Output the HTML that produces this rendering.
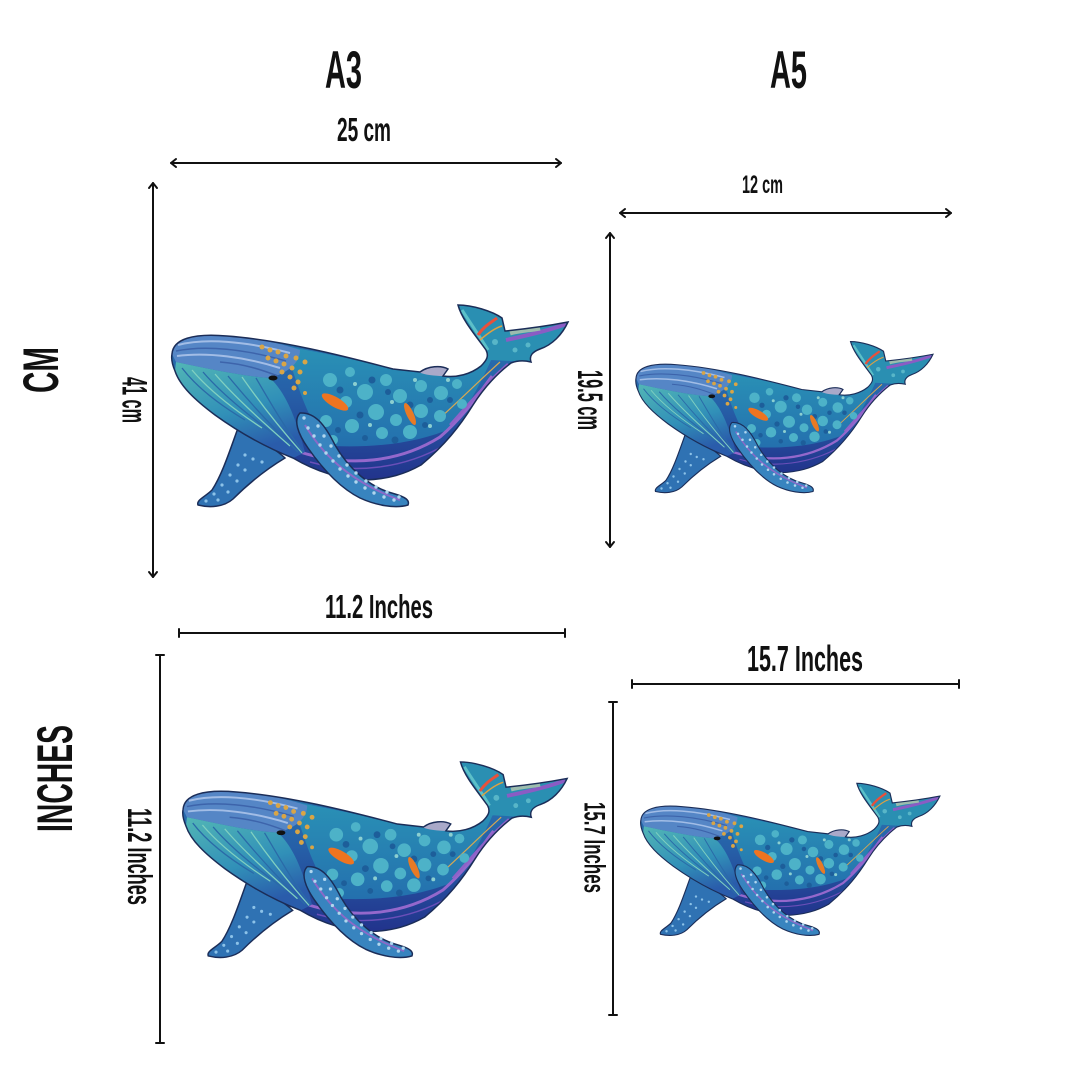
<!DOCTYPE html>
<html><head><meta charset="utf-8"><style>
html,body{margin:0;padding:0;background:#fff;}
svg{display:block;}
text{font-family:"Liberation Sans Narrow","Liberation Sans",sans-serif;font-weight:bold;fill:#111;}
</style></head><body>
<svg width="1080" height="1080" viewBox="0 0 1080 1080" xmlns="http://www.w3.org/2000/svg">
<defs>
<linearGradient id="gBody" x1="0" y1="0" x2="0" y2="1">
<stop offset="0" stop-color="#2a7cb2"/><stop offset="0.5" stop-color="#2660a8"/><stop offset="1" stop-color="#22338c"/>
</linearGradient>
<linearGradient id="gThroat" x1="0" y1="0" x2="0.4" y2="1">
<stop offset="0" stop-color="#52b6b6"/><stop offset="0.6" stop-color="#3190b8"/><stop offset="1" stop-color="#2a5cab"/>
</linearGradient>
<linearGradient id="gBack" x1="0" y1="0" x2="0" y2="1">
<stop offset="0" stop-color="#2a93b6"/><stop offset="1" stop-color="#2470ae"/>
</linearGradient>
<clipPath id="bodyClip">
<path d="M172,354 C173,339 193,333 227,336 C280,340 340,355 393,369 L420,372 C428,366 441,365 448,369 L443,376 C457,378 471,374 481,366 C487,360 489,356 486,350 C476,336 462,320 458,305 C472,305 492,311 502,318 L505,331 C525,329 547,326 568,322 C562,335 552,345 540,349 C532,352 529,356 531,362 C523,360 516,361 511,363 C498,373 485,386 473,405 C460,426 445,445 421,465 C405,474 389,479 365,480 C340,479 315,471 293,458 C265,447 240,433 215,415 C195,400 180,386 175,371 C172,364 171,359 172,354 Z"/>
</clipPath>
<g id="whale">
<!-- rear flipper -->
<path d="M238,428 C255,438 275,448 285,458 C265,470 248,484 233,499 C224,507 210,508 198,505 C196,500 205,497 212,490 C222,475 230,450 238,428 Z" fill="#2f72b3" stroke="#1b2d58" stroke-width="1.5"/>
<g fill="#8cc2e8">
<circle cx="245" cy="455" r="1.6"/><circle cx="238" cy="465" r="1.6"/><circle cx="230" cy="475" r="1.6"/><circle cx="222" cy="485" r="1.6"/><circle cx="214" cy="494" r="1.6"/><circle cx="206" cy="501" r="1.6"/><circle cx="253" cy="459" r="1.6"/><circle cx="245" cy="470" r="1.6"/><circle cx="237" cy="481" r="1.6"/><circle cx="228" cy="492" r="1.6"/><circle cx="218" cy="500" r="1.6"/><circle cx="262" cy="462" r="1.6"/>
</g>
<!-- body -->
<path d="M172,354 C173,339 193,333 227,336 C280,340 340,355 393,369 L420,372 C428,366 441,365 448,369 L443,376 C457,378 471,374 481,366 C487,360 489,356 486,350 C476,336 462,320 458,305 C472,305 492,311 502,318 L505,331 C525,329 547,326 568,322 C562,335 552,345 540,349 C532,352 529,356 531,362 C523,360 516,361 511,363 C498,373 485,386 473,405 C460,426 445,445 421,465 C405,474 389,479 365,480 C340,479 315,471 293,458 C265,447 240,433 215,415 C195,400 180,386 175,371 C172,364 171,359 172,354 Z" fill="url(#gBody)"/>
<g clip-path="url(#bodyClip)">
<path d="M285,346 C340,356 380,366 420,372 L443,376 C457,378 471,374 481,366 L500,340 C485,375 470,405 452,428 C420,442 380,448 332,446 C312,430 300,395 285,346 Z" fill="url(#gBack)"/>
<path d="M450,300 L575,300 L575,352 L530,362 L490,360 Z" fill="#2a8fb2"/>
<path d="M462,310 C475,330 482,340 488,350" stroke="#5cc0c8" stroke-width="3" fill="none"/>
<path d="M478,335 C485,325 492,322 497,318" stroke="#e9503a" stroke-width="3" fill="none"/>
<path d="M480,340 C488,333 495,328 502,326" stroke="#e0a040" stroke-width="1.5" fill="none"/>
<path d="M506,340 C525,336 548,331 566,324" stroke="#8a5cc4" stroke-width="4" fill="none"/>
<path d="M510,333 C520,330 530,330 540,328" stroke="#9cbcae" stroke-width="5" fill="none"/>
<circle cx="495" cy="342" r="3" fill="#58b6c8"/><circle cx="515" cy="350" r="2.5" fill="#58b6c8"/><circle cx="528" cy="345" r="2.5" fill="#58b6c8"/>
<path d="M300,452 C350,468 400,462 440,437 C462,418 476,398 492,376" stroke="#9468cc" stroke-width="3" fill="none"/>
<path d="M310,462 C355,475 405,468 445,445" stroke="#6a4fb8" stroke-width="1.5" fill="none"/>
<path d="M450,425 C468,405 484,385 508,364" stroke="#8e62c8" stroke-width="2.5" fill="none"/>
<path d="M440,418 C462,398 480,380 500,362" stroke="#d8a852" stroke-width="1.2" fill="none"/>
<g fill="#4db2c8">
<circle cx="330" cy="380" r="7"/><circle cx="350" cy="372" r="5"/><circle cx="365" cy="392" r="8"/><circle cx="386" cy="380" r="6"/><circle cx="400" cy="396" r="7"/><circle cx="421" cy="386" r="6"/><circle cx="441" cy="393" r="7"/><circle cx="457" cy="384" r="5"/><circle cx="346" cy="402" r="6"/><circle cx="376" cy="412" r="8"/><circle cx="396" cy="420" r="6"/><circle cx="421" cy="411" r="7"/><circle cx="440" cy="416" r="6"/><circle cx="352" cy="426" r="7"/><circle cx="382" cy="433" r="6"/><circle cx="410" cy="432" r="7"/><circle cx="326" cy="421" r="6"/><circle cx="462" cy="404" r="5"/><circle cx="333" cy="440" r="5"/>
</g>
<g fill="#1d5e9a">
<circle cx="340" cy="390" r="3.5"/><circle cx="372" cy="380" r="3.5"/><circle cx="410" cy="405" r="3.5"/><circle cx="430" cy="400" r="3"/><circle cx="360" cy="415" r="3.5"/><circle cx="395" cy="440" r="3.5"/><circle cx="450" cy="400" r="3"/><circle cx="338" cy="430" r="3"/><circle cx="388" cy="392" r="3"/><circle cx="365" cy="438" r="3"/><circle cx="425" cy="425" r="3"/>
</g>
<g fill="#8ccfd0">
<circle cx="355" cy="384" r="2"/><circle cx="392" cy="402" r="2"/><circle cx="415" cy="380" r="2"/><circle cx="370" cy="425" r="2"/><circle cx="430" cy="426" r="2"/><circle cx="448" cy="380" r="2"/>
</g>
<path d="M172,354 C173,339 193,333 227,336 C255,338 280,343 300,350 C300,362 290,372 270,378 C240,376 205,368 176,362 Z" fill="#5586c6"/>
<path d="M178,345 C205,338 245,341 290,353" stroke="#a2bde6" stroke-width="2" fill="none"/>
<path d="M176,351 C205,345 245,349 286,361" stroke="#3d64ab" stroke-width="1.5" fill="none"/>
<path d="M177,356 C208,352 245,357 280,368" stroke="#a2bde6" stroke-width="2" fill="none"/>
<path d="M220,362 C245,364 262,370 278,376" stroke="#3d64ab" stroke-width="1.5" fill="none"/>
<path d="M176,362 C205,368 240,376 270,378 C285,392 295,415 305,452 C298,456 293,458 293,458 C265,447 240,433 215,415 C195,400 180,386 175,371 Z" fill="url(#gThroat)"/>
<g fill="none" stroke-width="1.3">
<path d="M182,368 C195,385 215,402 245,420" stroke="#2a6aa8"/>
<path d="M192,370 C207,388 230,407 262,428" stroke="#80d0c0"/>
<path d="M203,372 C220,392 245,413 278,437" stroke="#2a6aa8"/>
<path d="M215,374 C233,395 258,418 290,446" stroke="#80d0c0"/>
<path d="M228,376 C246,398 268,423 298,452" stroke="#2a6aa8"/>
<path d="M242,377 C258,400 278,426 302,453" stroke="#80d0c0"/>
<path d="M256,378 C270,402 285,428 303,452" stroke="#2a6aa8"/>
</g>
<g fill="#d9a545">
<circle cx="262" cy="347" r="2.5"/><circle cx="270" cy="350" r="2.5"/><circle cx="278" cy="352" r="2.5"/><circle cx="286" cy="356" r="2.5"/><circle cx="268" cy="358" r="2.5"/><circle cx="276" cy="361" r="2.5"/><circle cx="284" cy="364" r="2.5"/><circle cx="292" cy="368" r="2.5"/><circle cx="282" cy="372" r="2.5"/><circle cx="290" cy="377" r="2.5"/><circle cx="298" cy="382" r="2.5"/><circle cx="300" cy="372" r="2.5"/><circle cx="294" cy="388" r="2.5"/><circle cx="305" cy="393" r="2"/><circle cx="296" cy="358" r="2.5"/><circle cx="305" cy="362" r="2.5"/>
</g>
<ellipse cx="335" cy="402" rx="15" ry="5" transform="rotate(30 335 402)" fill="#ee7420"/>
<ellipse cx="410" cy="414" rx="12" ry="3.5" transform="rotate(65 410 414)" fill="#e87a25"/>
<path d="M418,372 C428,366 441,365 448,369 L443,376 C435,376 425,375 418,372 Z" fill="#a9a9c9"/>
<ellipse cx="273" cy="378" rx="4.5" ry="2.5" fill="#111"/>
</g>
<path d="M172,354 C173,339 193,333 227,336 C280,340 340,355 393,369 L420,372 C428,366 441,365 448,369 L443,376 C457,378 471,374 481,366 C487,360 489,356 486,350 C476,336 462,320 458,305 C472,305 492,311 502,318 L505,331 C525,329 547,326 568,322 C562,335 552,345 540,349 C532,352 529,356 531,362 C523,360 516,361 511,363 C498,373 485,386 473,405 C460,426 445,445 421,465 C405,474 389,479 365,480 C340,479 315,471 293,458 C265,447 240,433 215,415 C195,400 180,386 175,371 C172,364 171,359 172,354 Z" fill="none" stroke="#1b2d58" stroke-width="1.5"/>
<path d="M300,413 C315,412 325,425 335,445 C348,468 370,488 395,494 C405,497 410,500 408,505 C395,509 375,505 360,498 C340,488 322,468 308,448 C298,434 293,420 300,413 Z" fill="#3884bf" stroke="#1b2d58" stroke-width="1.5"/>
<path d="M305,425 C320,450 345,480 400,500" stroke="#8a6ac8" stroke-width="2" fill="none"/>
<g fill="#b0d6ee">
<circle cx="308" cy="428" r="1.7"/><circle cx="314" cy="436" r="1.7"/><circle cx="320" cy="445" r="1.7"/><circle cx="326" cy="453" r="1.7"/><circle cx="333" cy="461" r="1.7"/><circle cx="340" cy="469" r="1.7"/><circle cx="348" cy="476" r="1.7"/><circle cx="356" cy="482" r="1.7"/><circle cx="365" cy="488" r="1.7"/><circle cx="374" cy="493" r="1.7"/><circle cx="384" cy="497" r="1.7"/><circle cx="394" cy="500" r="1.7"/><circle cx="318" cy="426" r="1.7"/><circle cx="324" cy="436" r="1.7"/><circle cx="331" cy="446" r="1.7"/><circle cx="339" cy="456" r="1.7"/><circle cx="347" cy="465" r="1.7"/><circle cx="356" cy="473" r="1.7"/><circle cx="366" cy="481" r="1.7"/><circle cx="376" cy="487" r="1.7"/><circle cx="387" cy="492" r="1.7"/><circle cx="399" cy="497" r="1.7"/><circle cx="304" cy="418" r="1.7"/>
</g>
</g>
</defs>

<use href="#whale"/>
<use href="#whale" transform="translate(507,112.75) scale(0.75)"/>
<use href="#whale" transform="translate(16.2,466.1) scale(0.97)"/>
<use href="#whale" transform="translate(511,553) scale(0.755)"/>

<g stroke="#111" stroke-width="2" fill="none" stroke-linecap="round" stroke-linejoin="round">
<line x1="171" y1="163" x2="561" y2="163"/>
<polyline points="176,159 171,163 176,167"/><polyline points="556,159 561,163 556,167"/>
<line x1="153" y1="183" x2="153" y2="577"/>
<polyline points="149,188 153,183 157,188"/><polyline points="149,572 153,577 157,572"/>
<line x1="620" y1="213" x2="951" y2="213"/>
<polyline points="625,209 620,213 625,217"/><polyline points="946,209 951,213 946,217"/>
<line x1="610" y1="233" x2="610" y2="547"/>
<polyline points="606,238 610,233 614,238"/><polyline points="606,542 610,547 614,542"/>
<line x1="179" y1="633" x2="565" y2="633"/>
<line x1="179" y1="629" x2="179" y2="637"/><line x1="565" y1="629" x2="565" y2="637"/>
<line x1="160" y1="655" x2="160" y2="1043"/>
<line x1="156" y1="655" x2="164" y2="655"/><line x1="156" y1="1043" x2="164" y2="1043"/>
<line x1="632" y1="684" x2="959" y2="684"/>
<line x1="632" y1="680" x2="632" y2="688"/><line x1="959" y1="680" x2="959" y2="688"/>
<line x1="613" y1="702" x2="613" y2="1015"/>
<line x1="609" y1="702" x2="617" y2="702"/><line x1="609" y1="1015" x2="617" y2="1015"/>
</g>

<text x="325" y="88" font-size="53" textLength="37" lengthAdjust="spacingAndGlyphs">A3</text>
<text x="770" y="88" font-size="53" textLength="37" lengthAdjust="spacingAndGlyphs">A5</text>
<text x="337" y="141" font-size="33.5" textLength="54" lengthAdjust="spacingAndGlyphs">25 cm</text>
<text x="742" y="193" font-size="25" textLength="41" lengthAdjust="spacingAndGlyphs">12 cm</text>
<text x="325" y="618" font-size="33" textLength="108" lengthAdjust="spacingAndGlyphs">11.2 Inches</text>
<text x="747" y="671" font-size="36" textLength="116" lengthAdjust="spacingAndGlyphs">15.7 Inches</text>

<g transform="translate(40,370) rotate(-90)"><text x="-23" y="18" font-size="50" textLength="46" lengthAdjust="spacingAndGlyphs">CM</text></g>
<g transform="translate(54,778.5) rotate(-90)"><text x="-53.5" y="18" font-size="50" textLength="107" lengthAdjust="spacingAndGlyphs">INCHES</text></g>
<g transform="translate(135,400) rotate(90)"><text x="-23" y="12.5" font-size="35" textLength="46" lengthAdjust="spacingAndGlyphs">41 cm</text></g>
<g transform="translate(590.5,400) rotate(90)"><text x="-30" y="12.5" font-size="35" textLength="60" lengthAdjust="spacingAndGlyphs">19.5 cm</text></g>
<g transform="translate(140,856.5) rotate(90)"><text x="-48.5" y="12" font-size="34" textLength="97" lengthAdjust="spacingAndGlyphs">11.2 Inches</text></g>
<g transform="translate(595,847.5) rotate(90)"><text x="-45.5" y="10.5" font-size="30" textLength="91" lengthAdjust="spacingAndGlyphs">15.7 Inches</text></g>
</svg>
</body></html>
